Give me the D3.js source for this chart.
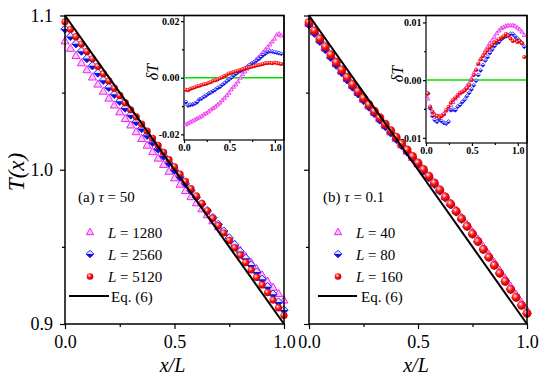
<!DOCTYPE html>
<html>
<head>
<meta charset="utf-8">
<script src="https://cdn.jsdelivr.net/npm/d3@7"></script>
<style>
  body { margin: 0; background: #fff; }
  svg { display: block; }
  svg text { font-family: "Liberation Serif", "Times New Roman", Times, "DejaVu Serif", serif !important; fill: #000; }
</style>
</head>
<body>
<div id="chart"></div>
<script>
// x/L positions of the main-panel markers
const xMain = [0,0.025,0.05,0.075,0.1,0.125,0.15,0.175,0.2,0.225,0.25,0.275,0.3,0.325,0.35,0.375,0.4,0.425,0.45,0.475,0.5,
  0.525,0.55,0.575,0.6,0.625,0.65,0.675,0.7,0.725,0.75,0.775,0.8,0.825,0.85,0.875,0.9,0.925,0.95,0.975,1.0];

// (a) tau = 50
const tA_1280 = [1.0835,1.0787,1.0740,1.0693,1.0648,1.0601,1.0555,1.0509,1.0464,1.0419,1.0375,1.0332,1.0290,1.0246,1.0202,1.0159,
  1.0117,1.0075,1.0034,0.9990,0.9947,0.9906,0.9865,0.9825,0.9785,0.9746,0.9708,0.9669,0.9630,0.9593,0.9555,0.9517,0.9478,0.9438,
  0.9398,0.9358,0.9318,0.9278,0.9238,0.9197,0.9155];
const tA_2560 = [1.0912,1.0864,1.0817,1.0769,1.0721,1.0674,1.0627,1.0580,1.0534,1.0489,1.0444,1.0400,1.0355,1.0311,1.0267,1.0223,
  1.0178,1.0134,1.0089,1.0044,0.9998,0.9954,0.9910,0.9866,0.9822,0.9778,0.9734,0.9690,0.9646,0.9602,0.9558,0.9514,0.9470,0.9426,
  0.9382,0.9337,0.9290,0.9242,0.9193,0.9142,0.9090];
const tA_5120 = [1.0959,1.0911,1.0863,1.0815,1.0767,1.0719,1.0671,1.0623,1.0576,1.0529,1.0482,1.0435,1.0389,1.0343,1.0296,1.0250,
  1.0204,1.0158,1.0112,1.0065,1.0018,0.9971,0.9924,0.9877,0.9830,0.9782,0.9734,0.9686,0.9638,0.9590,0.9542,0.9494,0.9446,0.9398,
  0.9350,0.9302,0.9253,0.9204,0.9155,0.9105,0.9055];

// (b) tau = 0.1
const tB_40 = [1.0948,1.0894,1.0841,1.0789,1.0738,1.0688,1.0639,1.0592,1.0546,1.0501,1.0457,1.0414,1.0372,1.0330,1.0288,1.0246,
  1.0204,1.0162,1.0121,1.0080,1.0039,0.9997,0.9955,0.9913,0.9870,0.9826,0.9782,0.9737,0.9691,0.9644,0.9597,0.9549,0.9500,0.9450,
  0.9399,0.9348,0.9296,0.9244,0.9192,0.9140,0.9088];
const tB_80 = [1.0940,1.0886,1.0833,1.0780,1.0729,1.0679,1.0630,1.0583,1.0537,1.0493,1.0450,1.0407,1.0365,1.0323,1.0281,1.0240,
  1.0198,1.0157,1.0116,1.0075,1.0034,0.9992,0.9950,0.9907,0.9863,0.9818,0.9773,0.9727,0.9680,0.9632,0.9583,0.9534,0.9484,0.9433,
  0.9382,0.9330,0.9278,0.9226,0.9174,0.9122,0.9070];
const tB_160 = [1.0955,1.0902,1.0850,1.0798,1.0747,1.0697,1.0648,1.0600,1.0554,1.0509,1.0465,1.0422,1.0380,1.0338,1.0296,1.0254,
  1.0212,1.0170,1.0129,1.0087,1.0045,1.0002,0.9959,0.9915,0.9870,0.9824,0.9778,0.9731,0.9683,0.9634,0.9585,0.9535,0.9484,0.9433,
  0.9381,0.9329,0.9277,0.9225,0.9173,0.9121,0.9069];

// Eq. (6)
const eqX = [0, 0.25, 0.5, 0.75, 1.0];
const eqT = [1.1, 1.05, 1.0, 0.95, 0.9];

// insets: deviation delta T
const xInset = [0.02,0.045,0.07,0.095,0.12,0.145,0.17,0.195,0.22,0.245,0.27,0.295,0.32,0.345,0.37,0.395,0.42,0.445,0.47,0.495,
  0.52,0.545,0.57,0.595,0.62,0.645,0.67,0.695,0.72,0.745,0.77,0.795,0.82,0.845,0.87,0.895,0.92,0.945,0.97,0.995,1.02,1.045,1.07];

const dA_1280 = [-0.0165,-0.0161,-0.0156,-0.0152,-0.0148,-0.0144,-0.0140,-0.0135,-0.0129,-0.0125,-0.0119,-0.0112,-0.0107,-0.0102,
  -0.0095,-0.0088,-0.0079,-0.0071,-0.0062,-0.0053,-0.0041,-0.0032,-0.0024,-0.0013,0.0000,0.0012,0.0022,0.0032,0.0041,0.0049,
  0.0055,0.0065,0.0073,0.0081,0.0091,0.0100,0.0109,0.0118,0.0128,0.0138,0.0152,0.0156,0.0149];
const dA_2560 = [-0.0086,-0.0098,-0.0096,-0.0094,-0.0091,-0.0086,-0.0076,-0.0073,-0.0067,-0.0062,-0.0056,-0.0052,-0.0047,-0.0042,
  -0.0036,-0.0032,-0.0025,-0.0019,-0.0012,-0.0006,0.0000,0.0008,0.0014,0.0020,0.0024,0.0029,0.0034,0.0039,0.0045,0.0051,
  0.0055,0.0060,0.0066,0.0073,0.0080,0.0086,0.0091,0.0094,0.0093,0.0091,0.0089,0.0087,0.0085];
const dA_5120 = [-0.0042,-0.0044,-0.0039,-0.0036,-0.0034,-0.0030,-0.0028,-0.0025,-0.0023,-0.0021,-0.0018,-0.0015,-0.0011,-0.0009,
  -0.0006,-0.0002,0.0002,0.0006,0.0011,0.0015,0.0018,0.0020,0.0023,0.0025,0.0028,0.0030,0.0033,0.0035,0.0037,0.0039,
  0.0041,0.0043,0.0045,0.0047,0.0049,0.0051,0.0052,0.0053,0.0051,0.0054,0.0052,0.0050,0.0049];

const dB_40 = [-0.0032,-0.0046,-0.0055,-0.0059,-0.0062,-0.0062,-0.0061,-0.0058,-0.0053,-0.0049,-0.0043,-0.0038,-0.0032,-0.0028,
  -0.0023,-0.0020,-0.0016,-0.0010,-0.0005,0.0003,0.0012,0.0018,0.0028,0.0036,0.0043,0.0051,0.0058,0.0064,0.0069,0.0075,
  0.0081,0.0086,0.0090,0.0092,0.0094,0.0095,0.0095,0.0095,0.0094,0.0091,0.0088,0.0084,0.0078];
const dB_80 = [-0.0023,-0.0049,-0.0062,-0.0069,-0.0072,-0.0068,-0.0071,-0.0074,-0.0075,-0.0072,-0.0052,-0.0051,-0.0052,-0.0046,
  -0.0043,-0.0038,-0.0034,-0.0028,-0.0022,-0.0016,-0.0009,-0.0001,0.0009,0.0017,0.0026,0.0034,0.0040,0.0047,0.0053,0.0059,
  0.0064,0.0066,0.0071,0.0074,0.0076,0.0078,0.0080,0.0080,0.0076,0.0072,0.0068,0.0064,0.0058];
const dB_160 = [-0.0023,-0.0046,-0.0055,-0.0061,-0.0062,-0.0065,-0.0062,-0.0059,-0.0052,-0.0046,-0.0039,-0.0034,-0.0030,-0.0026,
  -0.0022,-0.0020,-0.0018,-0.0014,-0.0009,0.0000,0.0009,0.0018,0.0029,0.0036,0.0042,0.0047,0.0052,0.0057,0.0061,0.0065,
  0.0068,0.0071,0.0074,0.0076,0.0080,0.0077,0.0072,0.0068,0.0069,0.0066,0.0068,0.0064,0.0040];

const xTicks = [0, 0.5, 1.0];
const xMinor = [0.25, 0.75];
const yTicks = [0.9, 1.0, 1.1];
const yMinor = [0.95, 1.05];
const insetXTicks = [0, 0.5, 1.0];
const insetXMinor = [0.25, 0.75];

const serif = '"Liberation Serif", "Times New Roman", Times, "DejaVu Serif", serif';

const panels = [
  { tag: "(a) ", tau: "50", sizes: ["1280", "2560", "5120"], t: [tA_1280, tA_2560, tA_5120], d: [dA_1280, dA_2560, dA_5120],
    xr: [65, 284], yLabels: true, ballR: 3.6, mk: 4.2,
    inset: { xr: [184, 284], yr: [140, 15.5], yd: [-0.022, 0.022], ticks: [-0.02, 0, 0.02], minor: [-0.01, 0.01], lx: 152, ly: 72 },
    leg: { titleX: 78, markX: 90, textX: 108, lineX: [69, 109], eqX: 111 } },
  { tag: "(b) ", tau: "0.1", sizes: ["40", "80", "160"], t: [tB_40, tB_80, tB_160], d: [dB_40, dB_80, dB_160],
    xr: [309, 527], yLabels: false, ballR: 4.4, mk: 4.3,
    inset: { xr: [426, 527], yr: [143, 15.5], yd: [-0.0109, 0.0112], ticks: [-0.01, 0, 0.01], minor: [-0.005, 0.005], lx: 397, ly: 74 },
    leg: { titleX: 323, markX: 338, textX: 356, lineX: [318, 357], eqX: 361 } }
];

const width = 550, height = 379;
const yr = [324, 15.5];

const svg = d3.select("#chart").append("svg")
  .attr("width", width)
  .attr("height", height)
  .attr("font-family", serif);

// shiny red ball
const grad = svg.append("defs").append("radialGradient")
  .attr("id", "ball").attr("cx", "38%").attr("cy", "35%").attr("r", "65%");
grad.append("stop").attr("offset", "0%").attr("stop-color", "#ffffff");
grad.append("stop").attr("offset", "18%").attr("stop-color", "#ff9090");
grad.append("stop").attr("offset", "50%").attr("stop-color", "#ff1010");
grad.append("stop").attr("offset", "100%").attr("stop-color", "#c00000");

function triangle(g, cx, cy, s) {
  g.append("path")
    .attr("d", `M${cx},${cy - s}L${cx + s * 0.95},${cy + s * 0.7}L${cx - s * 0.95},${cy + s * 0.7}Z`)
    .attr("fill", "#fbc8fb")
    .attr("stroke", "#ee22ee")
    .attr("stroke-width", s > 2.5 ? 1 : 0.8);
}

function diamond(g, cx, cy, s) {
  g.append("path")
    .attr("d", `M${cx},${cy - s}L${cx + s},${cy}L${cx},${cy + s}L${cx - s},${cy}Z`)
    .attr("fill", "#dde4ff")
    .attr("stroke", "#2a2aff")
    .attr("stroke-width", s > 2.5 ? 1 : 0.8);
  g.append("path")
    .attr("d", `M${cx - s},${cy}L${cx + s},${cy}L${cx},${cy + s}Z`)
    .attr("fill", "#1010e0");
}

function ball(g, cx, cy, r) {
  g.append("circle")
    .attr("cx", cx).attr("cy", cy).attr("r", r)
    .attr("fill", "url(#ball)");
}

const drawers = [triangle, diamond, ball];

function styleAxis(sel, size, bold) {
  sel.attr("font-family", serif);
  sel.select(".domain").remove();
  sel.selectAll("line").attr("stroke-width", 1.2);
  sel.selectAll("text").style("font-family", serif).style("font-size", size + "px")
    .style("font-weight", bold ? "bold" : "normal");
}

panels.forEach(p => {
  const x = d3.scaleLinear().domain([0, 1]).range(p.xr);
  const y = d3.scaleLinear().domain([0.9, 1.1]).range(yr);
  const g = svg.append("g");

  // axes
  const yAxis = d3.axisLeft(y).tickValues(yTicks).tickSize(5).tickPadding(7)
    .tickFormat(p.yLabels ? d3.format(".1f") : "");
  const yAxisMinor = d3.axisLeft(y).tickValues(yMinor).tickSize(3).tickFormat("");
  const xAxis = d3.axisBottom(x).tickValues(xTicks).tickSize(5).tickPadding(6).tickFormat(d3.format(".1f"));
  const xAxisMinor = d3.axisBottom(x).tickValues(xMinor).tickSize(3).tickFormat("");

  [yAxis, yAxisMinor].forEach(a => {
    g.append("g").attr("transform", `translate(${p.xr[0]},0)`).call(a).call(s => styleAxis(s, 18, false));
  });
  [xAxis, xAxisMinor].forEach(a => {
    g.append("g").attr("transform", `translate(0,${yr[0]})`).call(a).call(s => styleAxis(s, 18, false));
  });

  // x label
  g.append("text")
    .attr("x", (p.xr[0] + p.xr[1]) / 2 - 2)
    .attr("y", 372)
    .attr("text-anchor", "middle")
    .style("font-size", "20px")
    .style("font-style", "italic")
    .text("x/L");

  // markers
  p.t.forEach((ser, si) => {
    const ms = g.append("g");
    ser.forEach((v, i) => {
      if (si === 2) ball(ms, x(xMain[i]), y(v), p.ballR);
      else drawers[si](ms, x(xMain[i]), y(v), p.mk);
    });
  });

  // Eq. (6)
  const line = d3.line().x(d => x(d[0])).y(d => y(d[1]));
  g.append("path")
    .datum(eqX.map((v, i) => [v, eqT[i]]))
    .attr("d", line)
    .attr("fill", "none")
    .attr("stroke", "#000")
    .attr("stroke-width", 2);

  // legend
  const lg = p.leg;
  const title = g.append("text").attr("x", lg.titleX).attr("y", 202).style("font-size", "15px");
  title.append("tspan").text(p.tag);
  title.append("tspan").style("font-style", "italic").text("\u03c4");
  title.append("tspan").text(" = " + p.tau);

  const rowY = [232, 254, 276.5];
  p.sizes.forEach((s, si) => {
    if (si === 2) ball(g, lg.markX, rowY[si], 3.3);
    else drawers[si](g, lg.markX, rowY[si], 3.8);
    const t = g.append("text").attr("x", lg.textX).attr("y", rowY[si] + 5.5).style("font-size", "15px");
    t.append("tspan").style("font-style", "italic").text("L");
    t.append("tspan").text(" = " + s);
  });
  g.append("line")
    .attr("x1", lg.lineX[0]).attr("x2", lg.lineX[1])
    .attr("y1", 296).attr("y2", 296)
    .attr("stroke", "#000").attr("stroke-width", 2);
  g.append("text").attr("x", lg.eqX).attr("y", 301.5).style("font-size", "15px").text("Eq. (6)");

  // inset
  const ins = p.inset;
  const ix = d3.scaleLinear().domain([0, 1.1]).range(ins.xr);
  const iy = d3.scaleLinear().domain(ins.yd).range(ins.yr);
  const ig = svg.append("g");
  ig.append("rect")
    .attr("x", ins.xr[0]).attr("y", ins.yr[1])
    .attr("width", ins.xr[1] - ins.xr[0]).attr("height", ins.yr[0] - ins.yr[1])
    .attr("fill", "#fff").attr("stroke", "#000").attr("stroke-width", 1.2);

  const iyAxis = d3.axisLeft(iy).tickValues(ins.ticks).tickSize(3).tickPadding(1.5).tickFormat(d => d.toFixed(2));
  const iyMinor = d3.axisLeft(iy).tickValues(ins.minor).tickSize(2).tickFormat("");
  const ixAxis = d3.axisBottom(ix).tickValues(insetXTicks).tickSize(3).tickPadding(1).tickFormat(d3.format(".1f"));
  const ixMinor = d3.axisBottom(ix).tickValues(insetXMinor).tickSize(2).tickFormat("");
  [iyAxis, iyMinor].forEach(a => {
    ig.append("g").attr("transform", `translate(${ins.xr[0]},0)`).call(a).call(s => styleAxis(s, 10, true));
  });
  [ixAxis, ixMinor].forEach(a => {
    ig.append("g").attr("transform", `translate(0,${ins.yr[0]})`).call(a).call(s => styleAxis(s, 10, true));
  });

  ig.append("line")
    .attr("x1", ins.xr[0]).attr("x2", ins.xr[1])
    .attr("y1", iy(0)).attr("y2", iy(0))
    .attr("stroke", "#00e000").attr("stroke-width", 1.5);

  p.d.forEach((ser, si) => {
    const ms = ig.append("g");
    ser.forEach((v, i) => {
      if (si === 2) ball(ms, ix(xInset[i]), iy(v), 2);
      else drawers[si](ms, ix(xInset[i]), iy(v), 2.1);
    });
  });

  const dl = ig.append("text")
    .attr("transform", `translate(${ins.lx},${ins.ly}) rotate(-90)`)
    .attr("text-anchor", "middle")
    .attr("dy", "0.35em")
    .style("font-size", "16px")
    .style("font-style", "italic");
  dl.append("tspan").text("\u03b4");
  dl.append("tspan").text("T");

  // main frame on top
  svg.append("rect")
    .attr("x", p.xr[0]).attr("y", yr[1])
    .attr("width", p.xr[1] - p.xr[0]).attr("height", yr[0] - yr[1])
    .attr("fill", "none").attr("stroke", "#000").attr("stroke-width", 1.5);
});

// y label
svg.append("text")
  .attr("transform", "translate(16,172) rotate(-90)")
  .attr("text-anchor", "middle")
  .attr("dy", "0.35em")
  .style("font-size", "23px")
  .style("font-style", "italic")
  .text("T(x)");
</script>
</body>
</html>
